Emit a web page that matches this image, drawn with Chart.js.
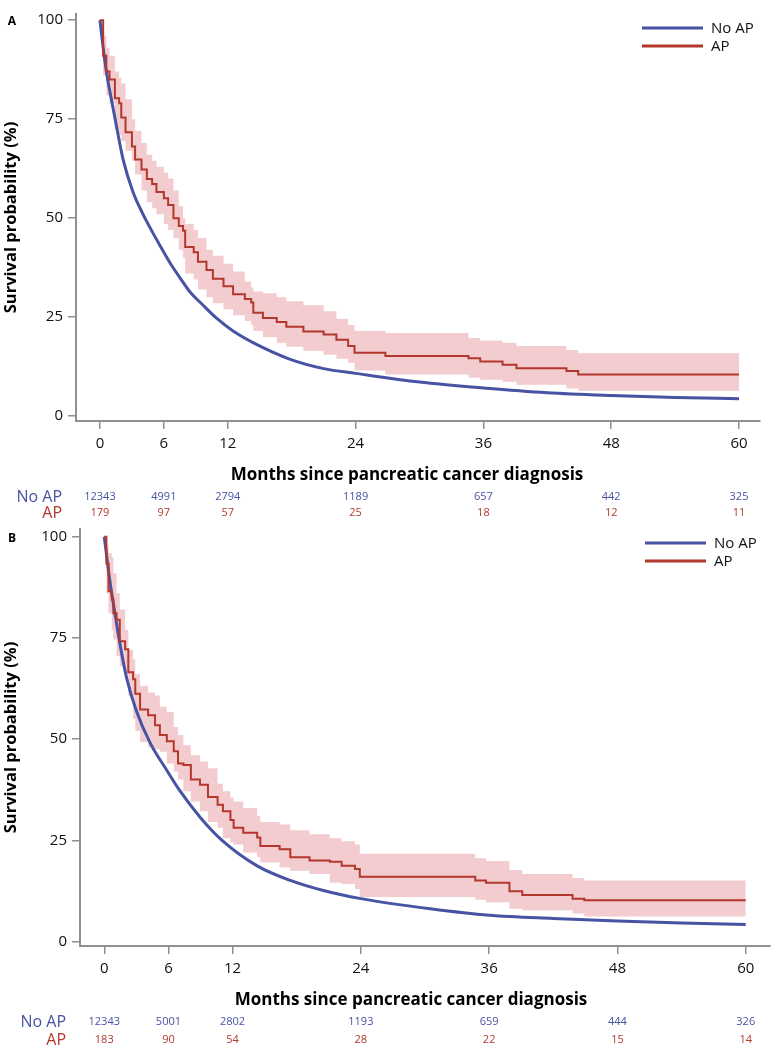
<!DOCTYPE html>
<html>
<head>
<meta charset="utf-8">
<title>Survival by AP</title>
<script src="https://cdn.jsdelivr.net/npm/chart.js@4.4.1/dist/chart.umd.min.js"></script>
<style>
body { margin: 0; background: #fff; }
#wrap { position: relative; width: 771px; height: 1050px; }
canvas { position: absolute; left: 0; }
#chartA { top: 0; }
#chartB { top: 515px; }
</style>
</head>
<body>
<div id="wrap">
<canvas id="chartA" width="771" height="520"></canvas>
<canvas id="chartB" width="771" height="535"></canvas>
</div>
<script>
(function () {

var BLUE = '#4753a3';
var RED = '#b3372d';
var BAND = 'rgba(222, 110, 118, 0.35)';
var AXIS = '#8f8f8f';
var FONT = '"Open Sans", "DejaVu Sans", sans-serif';

var seriesNames = ['No AP', 'AP'];
var xTitle = 'Months since pancreatic cancer diagnosis';
var yTitle = 'Survival probability (%)';
var xTicks = [0, 6, 12, 24, 36, 48, 60];
var yTicks = [0, 25, 50, 75, 100];

// panel A - no AP (smooth KM estimate)
var noApTimeA = [0, 0.3, 0.6, 1.0, 1.25, 1.6, 2.2, 3.1, 4.0, 4.7, 5.5, 6.6, 7.5, 8.5, 9.5, 11.0, 12.5, 14.7, 17.8, 21, 24, 30, 36, 42, 48, 54, 60];
var noApSurvA = [100, 93, 87, 81, 77.5, 72.5, 64.5, 56.6, 51.2, 47.6, 43.7, 38.6, 35, 31.2, 28.5, 24.6, 21.5, 18.1, 14.4, 12.0, 10.8, 8.6, 7.1, 5.9, 5.2, 4.7, 4.4];

// panel A - AP (steps + 95% CI)
var apTimeA = [0, 0.3, 0.6, 0.9, 1.4, 1.8, 2.0, 2.4, 3.0, 3.3, 3.9, 4.4, 4.9, 5.3, 6.0, 6.4, 6.9, 7.4, 7.8, 8.0, 8.8, 9.2, 10.0, 10.6, 11.6, 12.5, 13.6, 14.2, 14.4, 15.3, 16.6, 17.5, 19.1, 21.0, 22.2, 23.3, 23.9, 26.8, 34.6, 35.7, 37.8, 39.1, 43.8, 44.9, 60];
var apSurvA = [100, 91, 87, 85, 80.3, 79, 75.4, 71.7, 68.1, 64.8, 62.3, 59.9, 58.6, 56.6, 55.0, 53.3, 50.0, 48.0, 46.8, 42.7, 41.4, 39.0, 36.9, 34.7, 32.8, 30.8, 29.6, 28.7, 26.1, 24.8, 23.8, 22.6, 21.4, 20.6, 19.3, 17.7, 16.0, 15.2, 14.6, 13.8, 13.0, 12.1, 11.4, 10.5, 10.5];
var apUpperA = [100, 96, 93, 91, 87, 85.5, 84, 80, 75, 72, 69, 66, 64.5, 63, 61.5, 60, 57, 53, 50, 48.5, 47, 45, 42, 40.5, 38.5, 36.5, 34, 32.5, 31.5, 31, 30, 29, 28, 26.5, 24.6, 23, 21.5, 21.0, 19.7, 19.1, 18.5, 17.7, 16.7, 15.9, 15.9];
var apLowerA = [100, 86, 81, 79, 72.5, 71, 69.5, 67, 64.5, 61, 57, 54, 52.5, 51, 48.5, 47, 45, 42, 40, 36, 34.5, 32, 30, 28.5, 27, 25.5, 24, 23, 21.5, 20, 18.5, 17.5, 16.5, 15.5, 14.5, 13.5, 11.5, 10.5, 9.7, 9.2, 8.7, 7.9, 7.0, 6.4, 6.4];

var riskNoApA = [12343, 4991, 2794, 1189, 657, 442, 325];
var riskApA = [179, 97, 57, 25, 18, 12, 11];

// panel B - no AP
var noApTimeB = [0, 0.5, 1.0, 1.5, 2.1, 3.0, 4.3, 5.8, 7.0, 9.0, 11.1, 14.3, 17.4, 20.5, 24, 30.5, 36, 42, 48, 54, 60];
var noApSurvB = [100, 89.5, 81, 73, 65, 57, 49, 42.5, 37.5, 30.6, 24.8, 18.7, 15.1, 12.6, 10.6, 8.1, 6.5, 5.7, 5.1, 4.6, 4.2];

// panel B - AP
var apTimeB = [0, 0.2, 0.4, 0.7, 0.85, 1.15, 1.45, 1.95, 2.25, 2.7, 2.9, 3.35, 4.1, 4.75, 5.2, 5.85, 6.5, 6.9, 7.4, 8.1, 8.95, 9.7, 10.6, 11.1, 11.8, 12.1, 13.0, 14.3, 14.6, 16.4, 17.4, 19.2, 21.1, 22.2, 23.45, 23.9, 34.7, 35.7, 37.9, 39.1, 43.8, 44.9, 60];
var apSurvB = [100, 93.4, 86.5, 84.4, 81.1, 79.5, 74.2, 72.2, 66.5, 64.8, 61.2, 57.3, 55.9, 53.4, 51, 49.5, 47, 44, 43.6, 40, 38.7, 35.7, 33.8, 32.2, 30, 28.1, 26.9, 25.7, 23.6, 22.8, 20.8, 20, 19.7, 18.7, 17.9, 16.0, 15.05, 14.5, 12.4, 11.5, 10.6, 10.2, 10.2];
var apUpperB = [100, 98, 96, 95, 91, 86, 82, 77, 72, 69.7, 66, 63.2, 61.5, 60.8, 58, 56.7, 53, 51, 48.5, 46, 44.5, 42.8, 39, 37.1, 35.5, 34.6, 33, 31, 29.5, 28.9, 27.5, 26.5, 25.5, 24.8, 24, 21.7, 20.6, 19.9, 17.7, 16.7, 15.7, 15.05, 15.05];
var apLowerB = [100, 86, 81, 77, 74.6, 70.5, 68, 66, 60.8, 55, 52, 49.3, 48, 47.5, 46.9, 44, 42, 40, 37.1, 34.6, 32.2, 29.5, 28.1, 25.5, 24.5, 24, 22, 20.8, 19.5, 18.3, 17.5, 16.7, 14.5, 14.2, 13, 11, 10.3, 9.7, 8.1, 7.7, 6.9, 6.2, 6.2];

var riskNoApB = [12343, 5001, 2802, 1193, 659, 444, 326];
var riskApB = [183, 90, 54, 28, 22, 15, 14];

Chart.defaults.font.family = FONT;
Chart.defaults.color = '#111';

// legend, x title, panel letter and numbers at risk
var kmExtras = {
	id: 'kmExtras',
	afterDraw: function (chart, args, opts) {
		var ctx = chart.ctx;
		var area = chart.chartArea;
		var xs = chart.scales.x;
		var colors = [BLUE, RED];
		var rows = [opts.riskNoAp, opts.riskAp];
		var i, j;
		ctx.save();

		// legend
		ctx.lineWidth = 3;
		ctx.font = '15px ' + FONT;
		ctx.textAlign = 'left';
		ctx.textBaseline = 'middle';
		for (i = 0; i < seriesNames.length; i++) {
			var ly = area.top + 14 + i * 18;
			ctx.strokeStyle = colors[i];
			ctx.beginPath();
			ctx.moveTo(area.right - opts.legendX, ly);
			ctx.lineTo(area.right - opts.legendX + 61, ly);
			ctx.stroke();
			ctx.fillStyle = '#111';
			ctx.fillText(seriesNames[i], area.right - opts.legendX + 69, ly + 1);
		}

		// panel letter
		ctx.font = 'bold 12px ' + FONT;
		ctx.fillStyle = '#000';
		ctx.textAlign = 'center';
		ctx.fillText(opts.letter, 12, area.top + opts.letterY);

		// x title
		ctx.font = 'bold 17px ' + FONT;
		ctx.fillText(xTitle, area.left + 331, area.bottom + 54);

		// numbers at risk
		for (i = 0; i < rows.length; i++) {
			var ry = area.bottom + opts.rowY[i];
			ctx.fillStyle = colors[i];
			ctx.textAlign = 'right';
			ctx.font = '16px ' + FONT;
			ctx.fillText(seriesNames[i], area.left - 14, ry);
			ctx.textAlign = 'center';
			ctx.font = '11px ' + FONT;
			for (j = 0; j < xTicks.length; j++) {
				ctx.fillText(String(rows[i][j]), xs.getPixelForValue(xTicks[j]), ry);
			}
		}
		ctx.restore();
	}
};

makePanel('chartA', {
	noApTime: noApTimeA, noApSurv: noApSurvA,
	apTime: apTimeA, apSurv: apSurvA, apUpper: apUpperA, apLower: apLowerA,
	riskNoAp: riskNoApA, riskAp: riskApA,
	padding: { top: 3, left: 0, right: 11, bottom: 35 },
	yWidth: 76,
	xMin: -2.25, xMax: 61.97, yMin: -1.23, yMax: 101.55,
	letter: 'A', letterY: 8, legendX: 118, rowY: [76, 92]
});

makePanel('chartB', {
	noApTime: noApTimeB, noApSurv: noApSurvB,
	apTime: apTimeB, apSurv: apSurvB, apUpper: apUpperB, apLower: apLowerB,
	riskNoAp: riskNoApB, riskAp: riskApB,
	padding: { top: 10, left: 0, right: 1, bottom: 40 },
	yWidth: 80,
	xMin: -2.27, xMax: 62.27, yMin: -1.1, yMax: 101.9,
	letter: 'B', letterY: 10, legendX: 125, rowY: [76, 94]
});

function toPoints(times, values) {
	var list = [];
	for (var i = 0, len = times.length; i < len; i++) {
		list.push({ x: times[i], y: values[i] });
	}
	return list;
}

function fixedTicks(values) {
	return function (scale) {
		scale.ticks = values.map(function (v) { return { value: v }; });
	};
}

function makePanel(id, p) {
	var axisGrid = {
		display: true,
		drawOnChartArea: false,
		drawTicks: true,
		tickLength: 8,
		color: AXIS,
		lineWidth: 1.5
	};
	var axisBorder = { display: true, color: AXIS, width: 2 };
	return new Chart(document.getElementById(id), {
		type: 'line',
		data: {
			datasets: [{
				label: seriesNames[1],
				data: toPoints(p.apTime, p.apSurv),
				stepped: 'before',
				borderColor: RED,
				borderWidth: 2,
				fill: false,
				order: 0
			}, {
				label: seriesNames[0],
				data: toPoints(p.noApTime, p.noApSurv),
				cubicInterpolationMode: 'monotone',
				borderColor: BLUE,
				borderWidth: 3,
				fill: false,
				order: 1
			}, {
				label: 'AP upper',
				data: toPoints(p.apTime, p.apUpper),
				stepped: 'before',
				borderWidth: 0,
				borderColor: 'rgba(0,0,0,0)',
				backgroundColor: BAND,
				fill: '+1',
				order: 2
			}, {
				label: 'AP lower',
				data: toPoints(p.apTime, p.apLower),
				stepped: 'before',
				borderWidth: 0,
				borderColor: 'rgba(0,0,0,0)',
				fill: false,
				order: 3
			}]
		},
		options: {
			responsive: false,
			animation: false,
			layout: { autoPadding: false, padding: p.padding },
			elements: { point: { radius: 0, hoverRadius: 0 } },
			plugins: {
				legend: { display: false },
				tooltip: { enabled: false },
				kmExtras: p
			},
			scales: {
				x: {
					type: 'linear',
					min: p.xMin,
					max: p.xMax,
					afterBuildTicks: fixedTicks(xTicks),
					afterFit: function (s) { s.height = 64; },
					grid: axisGrid,
					border: axisBorder,
					ticks: { padding: 6, font: { size: 15 }, color: '#111', maxRotation: 0 }
				},
				y: {
					type: 'linear',
					min: p.yMin,
					max: p.yMax,
					afterBuildTicks: fixedTicks(yTicks),
					afterFit: function (s) { s.width = p.yWidth; },
					grid: axisGrid,
					border: axisBorder,
					ticks: { padding: 5, font: { size: 15 }, color: '#111' },
					title: {
						display: true,
						text: yTitle,
						color: '#000',
						font: { size: 16.5, weight: 'bold' },
						padding: { top: 1, bottom: 0 }
					}
				}
			}
		},
		plugins: [kmExtras]
	});
}

}());
</script>
</body>
</html>
